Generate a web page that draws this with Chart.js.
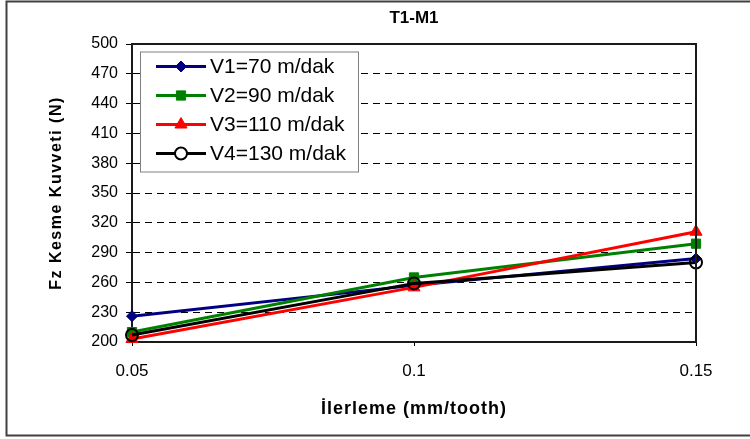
<!DOCTYPE html>
<html>
<head>
<meta charset="utf-8">
<script src="https://cdn.jsdelivr.net/npm/chart.js@4"></script>
<style>
html,body{margin:0;padding:0;background:#fff;}
canvas{display:block;}
</style>
</head>
<body>
<canvas id="c" width="750" height="439"></canvas>
<script>
const chartTitle = 'T1-M1';
const xTitle = 'İlerleme (mm/tooth)';
const yTitle = 'Fz Kesme Kuvveti (N)';
const categories = ['0.05', '0.1', '0.15'];
const seriesNames = ['V1=70 m/dak', 'V2=90 m/dak', 'V3=110 m/dak', 'V4=130 m/dak'];
const v1 = [226, 257, 284];
const v2 = [210, 265, 299];
const v3 = [203, 255, 311];
const v4 = [207, 259, 280];
const yMin = 200, yMax = 500, yStep = 30;

const FONT = '"Liberation Sans", Arial, sans-serif';

const styles = [
  {color: '#000080', point: 'rectRot', radius: 5.5, bw: 1, fill: '#000080'},
  {color: '#008000', point: 'rect', radius: 6.5, bw: 1, fill: '#008000'},
  {color: '#FF0000', point: 'triangle', radius: 7, bw: 1, fill: '#FF0000'},
  {color: '#000000', point: 'circle', radius: 6, bw: 2, fill: 'rgba(0,0,0,0)'}
];
const values = [v1, v2, v3, v4];

const datasets = values.map((d, i) => ({
  label: seriesNames[i],
  data: d,
  borderColor: styles[i].color,
  backgroundColor: styles[i].fill,
  borderWidth: 3,
  tension: 0,
  pointStyle: styles[i].point,
  pointRadius: styles[i].radius,
  pointHoverRadius: styles[i].radius,
  pointBorderWidth: styles[i].bw,
  pointBorderColor: styles[i].color,
  pointBackgroundColor: styles[i].fill,
  clip: false,
  order: 4 - i
}));

const decor = {
  id: 'decor',
  beforeDraw(chart) {
    const ctx = chart.ctx;
    ctx.save();
    ctx.fillStyle = '#fff';
    ctx.fillRect(0, 0, chart.width, chart.height);
    ctx.restore();
  },
  afterDraw(chart) {
    const ctx = chart.ctx;
    const a = chart.chartArea;
    ctx.save();
    // plot frame top & right
    ctx.strokeStyle = '#1a1a1a';
    ctx.lineWidth = 2;
    ctx.beginPath();
    ctx.moveTo(a.left, a.top);
    ctx.lineTo(a.right, a.top);
    ctx.lineTo(a.right, a.bottom);
    ctx.stroke();
    // outer frame
    ctx.strokeStyle = '#404040';
    ctx.lineWidth = 2;
    ctx.beginPath();
    ctx.moveTo(chart.width, 1.5);
    ctx.lineTo(6.5, 1.5);
    ctx.lineTo(6.5, 435.5);
    ctx.lineTo(chart.width, 435.5);
    ctx.stroke();
    // title
    ctx.fillStyle = '#000';
    ctx.font = 'bold 17px ' + FONT;
    ctx.textAlign = 'center';
    ctx.textBaseline = 'middle';
    ctx.fillText(chartTitle, (a.left + a.right) / 2, 18);
    // axis titles (with Excel-like letter spacing)
    ctx.save();
    ctx.letterSpacing = '1px';
    ctx.font = 'bold 18px ' + FONT;
    ctx.fillText(xTitle, (a.left + a.right) / 2, 409);
    ctx.restore();
    ctx.save();
    ctx.letterSpacing = '1.5px';
    ctx.font = 'bold 16px ' + FONT;
    ctx.translate(57, (a.top + a.bottom) / 2);
    ctx.rotate(-Math.PI / 2);
    ctx.textAlign = 'center';
    ctx.textBaseline = 'middle';
    ctx.fillText(yTitle, 0, 0);
    ctx.restore();
    // legend
    const lx = a.left + 8, ly = a.top + 7.5, lw = 218, lh = 120;
    ctx.fillStyle = '#fff';
    ctx.fillRect(lx, ly, lw, lh);
    ctx.strokeStyle = '#808080';
    ctx.lineWidth = 1;
    ctx.strokeRect(lx + 0.5, ly + 0.5, lw, lh);
    chart.data.datasets.forEach((ds, i) => {
      const y = ly + 15 + i * 29;
      ctx.strokeStyle = ds.borderColor;
      ctx.lineWidth = 3;
      ctx.beginPath();
      ctx.moveTo(lx + 16, y);
      ctx.lineTo(lx + 66, y);
      ctx.stroke();
      ctx.fillStyle = styles[i].point === 'circle' ? '#fff' : ds.pointBackgroundColor;
      ctx.strokeStyle = ds.pointBorderColor;
      ctx.lineWidth = ds.pointBorderWidth;
      Chart.helpers.drawPoint(ctx, {pointStyle: ds.pointStyle, radius: ds.pointRadius, rotation: 0, borderWidth: ds.pointBorderWidth}, lx + 41, y);
      ctx.fillStyle = '#000';
      ctx.font = '21px ' + FONT;
      ctx.textAlign = 'left';
      ctx.textBaseline = 'middle';
      ctx.fillText(ds.label, lx + 70, y + 1);
    });
    ctx.restore();
  }
};

new Chart(document.getElementById('c'), {
  type: 'line',
  data: {labels: categories, datasets: datasets},
  options: {
    responsive: false,
    animation: false,
    devicePixelRatio: 1,
    layout: {padding: {top: 44, right: 54, left: 0, bottom: 0}},
    plugins: {legend: {display: false}, title: {display: false}, tooltip: {enabled: false}},
    scales: {
      x: {
        type: 'category',
        offset: false,
        afterFit(s) { s.height = 97; },
        grid: {drawOnChartArea: false, drawTicks: true, tickLength: 4, tickColor: '#000', tickWidth: 1},
        border: {display: true, color: '#1a1a1a', width: 2},
        ticks: {color: '#000', font: {family: FONT, size: 17}, padding: 15, maxRotation: 0, autoSkip: false},
        title: {display: false, text: xTitle}
      },
      y: {
        min: yMin, max: yMax,
        afterFit(s) { s.width = 132; },
        ticks: {stepSize: yStep, color: '#000', font: {family: FONT, size: 16}, padding: 8},
        grid: {
          color: (c) => (c.tick && (c.tick.value === yMin || c.tick.value === yMax)) ? 'rgba(0,0,0,0)' : '#000',
          lineWidth: 1,
          tickLength: 6, tickColor: '#000', tickWidth: 1
        },
        border: {display: true, color: '#1a1a1a', width: 2, dash: [7, 5]},
        title: {display: false, text: yTitle}
      }
    }
  },
  plugins: [decor]
});
</script>
</body>
</html>
